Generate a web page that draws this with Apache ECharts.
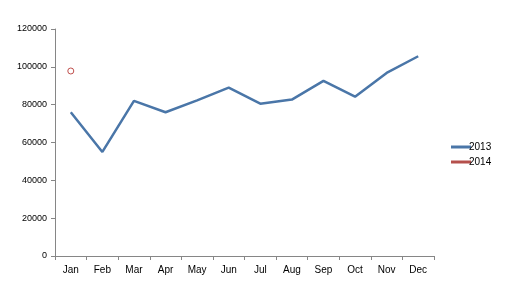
<!DOCTYPE html>
<html><head><meta charset="utf-8">
<script src="https://cdn.jsdelivr.net/npm/echarts@6/dist/echarts.min.js"></script>
<style>html,body{margin:0;padding:0;background:#fff}#c{width:530px;height:281px}</style>
</head><body><div id="c"></div>
<script>
const categories = ['Jan','Feb','Mar','Apr','May','Jun','Jul','Aug','Sep','Oct','Nov','Dec'];
const series2013 = [76000, 55000, 82000, 76000, 82300, 89000, 80500, 82700, 92600, 84200, 96800, 105600];
const series2014 = [97800, null, null, null, null, null, null, null, null, null, null, null];
const yTicks = [0, 20000, 40000, 60000, 80000, 100000, 120000];

const chart = echarts.init(document.getElementById('c'), null, {renderer:'canvas'});
const font = 'Liberation Sans, Arial, sans-serif';
chart.setOption({
  animation:false,
  backgroundColor:'#fff',
  grid:{left:55, right:96, top:29, bottom:25, containLabel:false},
  legend:{
    orient:'vertical', left:446, top:137, itemGap:5,
    itemWidth:20, itemHeight:3, icon:'rect',
    textStyle:{fontFamily:font, fontSize:10, color:'#000', padding:[0,0,0,-7]},
    data:[
      {name:'2013', itemStyle:{color:'#4A76A8', borderWidth:0}},
      {name:'2014', itemStyle:{color:'#B5504C', borderWidth:0}}
    ]
  },
  xAxis:{
    type:'category', data:categories, boundaryGap:true,
    axisLine:{lineStyle:{color:'#868686', width:1}},
    axisTick:{show:true, length:4, inside:false, lineStyle:{color:'#868686'}},
    axisLabel:{fontFamily:font, fontSize:10, color:'#000', margin:9}
  },
  yAxis:{
    type:'value', min:yTicks[0], max:yTicks[yTicks.length-1], interval:20000,
    axisLine:{show:true, lineStyle:{color:'#868686', width:1}},
    axisTick:{show:true, length:4, lineStyle:{color:'#868686'}},
    splitLine:{show:false},
    axisLabel:{fontFamily:font, fontSize:9, color:'#000', margin:8, formatter:v=>String(v)}
  },
  series:[
    {name:'2013', type:'line', data:series2013, showSymbol:false, symbol:'none',
     lineStyle:{color:'#4A76A8', width:2.5}, itemStyle:{color:'#4A76A8'}},
    {name:'2014', type:'line', data:series2014, symbol:'circle', symbolSize:6, showSymbol:true,
     lineStyle:{color:'#B5504C', width:2.5},
     itemStyle:{color:'#fff', borderColor:'#C0504D', borderWidth:1}}
  ]
});
</script></body></html>
